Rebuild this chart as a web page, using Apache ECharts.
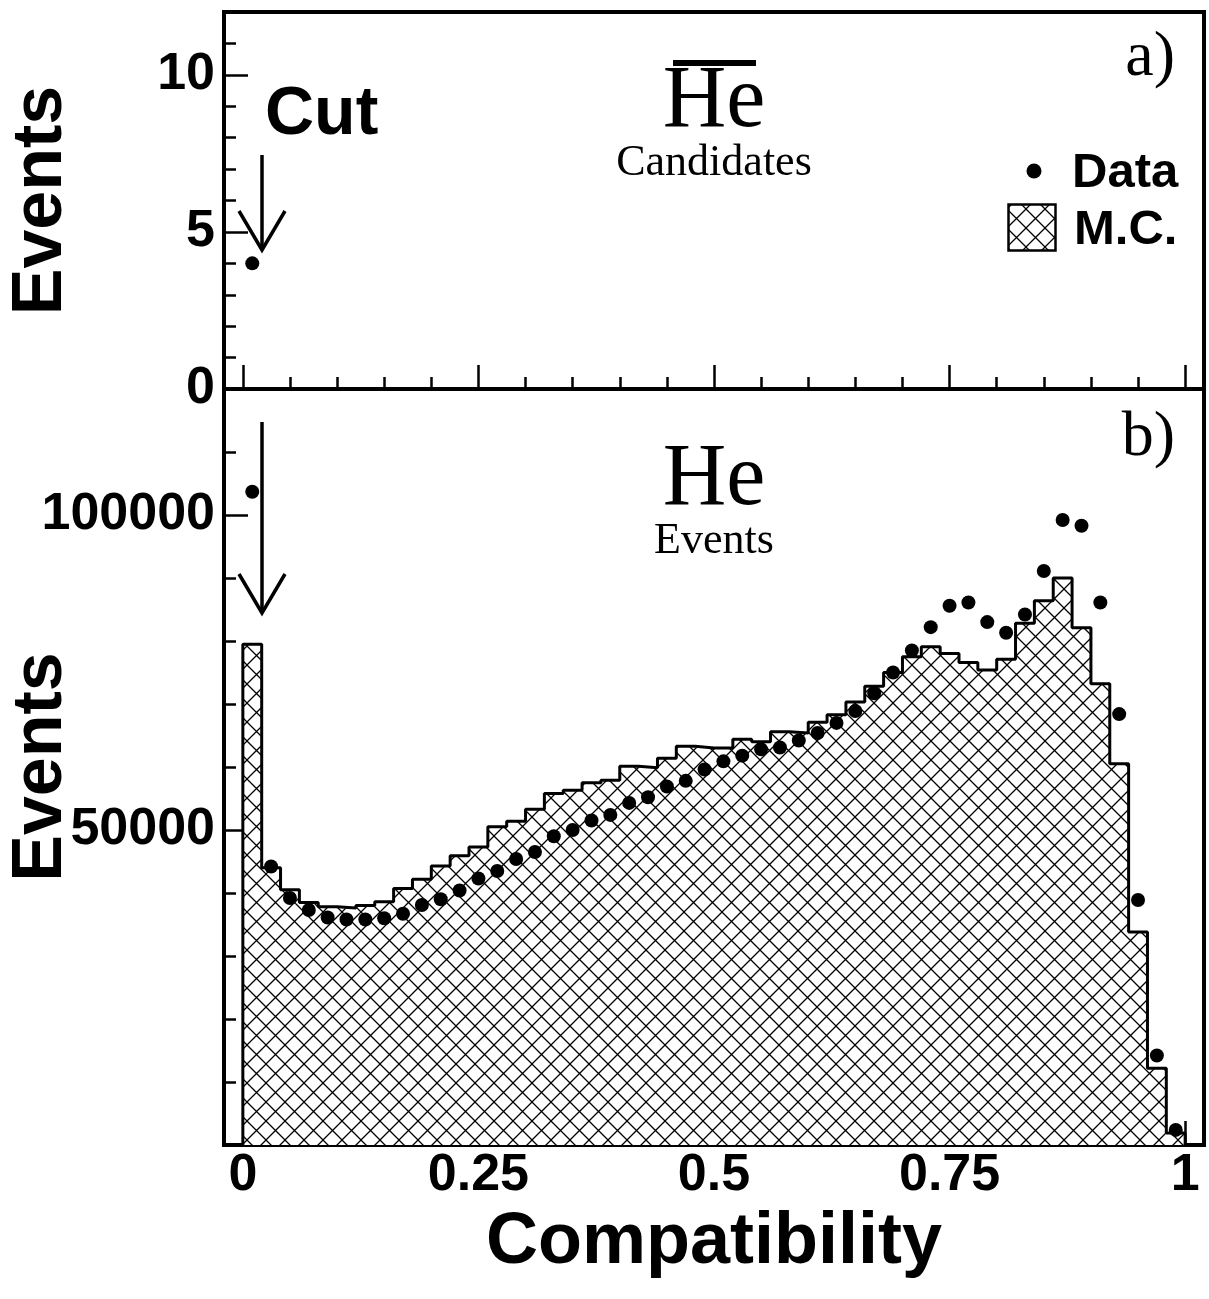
<!DOCTYPE html>
<html>
<head>
<meta charset="utf-8">
<script src="https://cdn.jsdelivr.net/npm/echarts@6/dist/echarts.min.js"></script>
<style>
html,body{margin:0;padding:0;background:#fff;}
#chart{width:1209px;height:1299px;}
</style>
</head>
<body>
<div id="chart"></div>
<script>
// ---------- data ----------
const binCenters = [0.01,0.03,0.05,0.07,0.09,0.11,0.13,0.15,0.17,0.19,
  0.21,0.23,0.25,0.27,0.29,0.31,0.33,0.35,0.37,0.39,
  0.41,0.43,0.45,0.47,0.49,0.51,0.53,0.55,0.57,0.59,
  0.61,0.63,0.65,0.67,0.69,0.71,0.73,0.75,0.77,0.79,
  0.81,0.83,0.85,0.87,0.89,0.91,0.93,0.95,0.97,0.99];
const binHalfWidth = 0.01;

// He events: Monte Carlo histogram
const mcCounts = [79500,44000,40500,38500,37800,37600,38000,38600,40700,42200,
  44300,45900,47300,50500,51400,53300,55800,56300,57500,57900,
  60100,59900,61400,63300,63000,63000,64400,64000,65600,65400,
  67100,68300,70300,72800,75000,77500,79100,78000,76600,75400,
  77100,82800,86400,90000,82100,73200,60500,33800,12200,1900];

// He events: data points
const dataCounts = [103700,44200,39200,37300,36100,35800,35800,36000,36700,38100,
  39000,40400,42300,43500,45400,46500,49000,50000,51500,52400,
  54300,55200,56900,57800,59600,60900,61800,62800,63100,64200,
  65400,67000,68900,71700,75000,78500,82200,85600,86100,83000,
  81300,84200,91100,99200,98300,86100,68400,38900,14200,2400];

// anti-He candidates
const candCenters = [0.01];
const candCounts = [4];

const cutValue = 0.02;

// axis ticks / labels
const xTickValues = [0, 0.25, 0.5, 0.75, 1];
const xTickLabels = ['0', '0.25', '0.5', '0.75', '1'];
const xMinorTicks = [0.05,0.1,0.15,0.2,0.3,0.35,0.4,0.45,0.55,0.6,0.65,0.7,0.8,0.85,0.9,0.95];
const yTopMajor = [0, 5, 10];
const yTopLabels = ['0', '5', '10'];
const yTopMinor = [1,2,3,4,6,7,8,9,11];
const yBotMajor = [50000, 100000];
const yBotLabels = ['50000', '100000'];
const yBotMinor = [10000,20000,30000,40000,60000,70000,80000,90000,110000];

// ---------- build ----------
const SANS = '"Liberation Sans", Arial, Helvetica, sans-serif';
const SERIF = '"Liberation Serif", "Times New Roman", serif';

function makeHatch(size) {
  const c = document.createElement('canvas');
  c.width = size; c.height = size;
  const g = c.getContext('2d');
  g.fillStyle = '#fff';
  g.fillRect(0, 0, size, size);
  g.strokeStyle = '#000';
  g.lineWidth = 1.3;
  g.beginPath();
  g.moveTo(-2, -2); g.lineTo(size + 2, size + 2);
  g.moveTo(size + 2, -2); g.lineTo(-2, size + 2);
  g.stroke();
  return c;
}
const hatch = { image: makeHatch(19), repeat: 'repeat' };

// histogram outline points (step)
const mcLine = [[binCenters[0] - binHalfWidth, 0]];
binCenters.forEach((c, i) => mcLine.push([c - binHalfWidth, mcCounts[i]]));
const lastEdge = binCenters[binCenters.length - 1] + binHalfWidth;
mcLine.push([lastEdge, mcCounts[mcCounts.length - 1]]);
mcLine.push([lastEdge, 0]);

const dataPts = binCenters.map((c, i) => [c, dataCounts[i]]);
const candPts = candCenters.map((c, i) => [c, candCounts[i]]);

const labelStyle = { color: '#000', fontFamily: SANS, fontWeight: 'bold', fontSize: 52 };
const tickLine = { color: '#000', width: 2.5 };

function xAxisDef(grid, major, showLabels) {
  return {
    type: 'value', gridIndex: grid, min: -0.02, max: 1.02, position: 'bottom',
    axisLine: { show: false, onZero: false }, splitLine: { show: false },
    axisTick: { show: true, inside: true, length: major ? 24 : 12, lineStyle: tickLine,
      customValues: major ? xTickValues : xMinorTicks },
    axisLabel: showLabels ? Object.assign({ show: true, margin: 5,
      customValues: xTickValues,
      formatter: v => xTickLabels[xTickValues.indexOf(v)] }, labelStyle) : { show: false }
  };
}
function yAxisDef(grid, min, max, ticks, len, labels, labelText) {
  return {
    type: 'value', gridIndex: grid, min: min, max: max, position: 'left',
    axisLine: { show: false, onZero: false }, splitLine: { show: false },
    axisTick: { show: true, inside: true, length: len, lineStyle: tickLine, customValues: ticks },
    axisLabel: labels ? Object.assign({ show: true, margin: 9, customValues: labels,
      formatter: v => labelText[labels.indexOf(v)] }, labelStyle) : { show: false }
  };
}

const xAxes = [
  xAxisDef(0, true, false),
  xAxisDef(0, false, false),
  Object.assign(xAxisDef(1, true, true), {
    name: 'Compatibility', nameLocation: 'middle', nameGap: 62, nameMoveOverlap: false,
    nameTextStyle: { color: '#000', fontFamily: SANS, fontWeight: 'bold', fontSize: 72 }
  }),
  xAxisDef(1, false, false)
];
const nameStyle = { color: '#000', fontFamily: SANS, fontWeight: 'bold', fontSize: 70 };
const yAxes = [
  Object.assign(yAxisDef(0, 0, 12, yTopMajor, 24, yTopMajor, yTopLabels), {
    name: 'Events', nameLocation: 'middle', nameRotate: 90, nameGap: 147, nameMoveOverlap: false,
    nameTextStyle: nameStyle }),
  yAxisDef(0, 0, 12, yTopMinor, 12, null, null),
  Object.assign(yAxisDef(1, 0, 120000, yBotMajor, 24, yBotMajor, yBotLabels), {
    name: 'Events', nameLocation: 'middle', nameRotate: 90, nameGap: 147, nameMoveOverlap: false,
    nameTextStyle: nameStyle }),
  yAxisDef(1, 0, 120000, yBotMinor, 12, null, null)
];

function txt(x, y, text, font, align, valign) {
  return { type: 'text', x: x, y: y, z: 100,
    style: { text: text, font: font, fill: '#000', textAlign: align, textVerticalAlign: valign } };
}
function arrow(x, y0, y1) {
  return [
    { type: 'line', z: 100, shape: { x1: x, y1: y0, x2: x, y2: y1 },
      style: { stroke: '#000', lineWidth: 3.5 } },
    { type: 'polyline', z: 100, shape: { points: [[x - 23, y1 - 39], [x, y1], [x + 23, y1 - 39]] },
      style: { stroke: '#000', lineWidth: 3.5, fill: null } }
  ];
}

const graphics = [].concat(
  [txt(265, 115, 'Cut', 'bold 68px ' + SANS, 'left', 'middle')],
  arrow(262, 155, 250),
  arrow(262, 422, 613),
  [
    txt(714, 103, 'He', '88px ' + SERIF, 'center', 'middle'),
    { type: 'rect', z: 100, shape: { x: 673, y: 60, width: 83, height: 6 }, style: { fill: '#000' } },
    txt(714, 163, 'Candidates', '44px ' + SERIF, 'center', 'middle'),
    txt(1175, 58, 'a)', '64px ' + SERIF, 'right', 'middle'),
    txt(1175, 438, 'b)', '64px ' + SERIF, 'right', 'middle'),
    txt(714, 481, 'He', '88px ' + SERIF, 'center', 'middle'),
    txt(714, 541, 'Events', '44px ' + SERIF, 'center', 'middle'),
    { type: 'circle', z: 100, shape: { cx: 1034, cy: 171, r: 7.5 }, style: { fill: '#000' } },
    txt(1072, 173, 'Data', 'bold 49px ' + SANS, 'left', 'middle'),
    { type: 'rect', z: 100, shape: { x: 1008.5, y: 204.5, width: 47, height: 46 },
      style: { fill: hatch, stroke: '#000', lineWidth: 2.5 } },
    txt(1074, 230, 'M.C.', 'bold 49px ' + SANS, 'left', 'middle')
  ]
);

const chart = echarts.init(document.getElementById('chart'), null, { renderer: 'canvas' });
chart.setOption({
  animation: false,
  backgroundColor: '#fff',
  grid: [
    { left: 224, right: 5, top: 12, height: 377, show: true, borderColor: '#000', borderWidth: 4,
      backgroundColor: 'transparent', containLabel: false, outerBoundsMode: 'none' },
    { left: 224, right: 5, top: 389, height: 756, show: true, borderColor: '#000', borderWidth: 4,
      backgroundColor: 'transparent', containLabel: false, outerBoundsMode: 'none' }
  ],
  xAxis: xAxes,
  yAxis: yAxes,
  series: [
    { name: 'M.C.', type: 'line', xAxisIndex: 2, yAxisIndex: 2, data: mcLine, step: 'end',
      showSymbol: false, symbol: 'none', z: 2,
      lineStyle: { color: '#000', width: 3 },
      areaStyle: { color: hatch, opacity: 1 } },
    { name: 'Data', type: 'scatter', xAxisIndex: 2, yAxisIndex: 2, data: dataPts,
      symbol: 'circle', symbolSize: 14, itemStyle: { color: '#000', opacity: 1 }, z: 5 },
    { name: 'Data', type: 'scatter', xAxisIndex: 0, yAxisIndex: 0, data: candPts,
      symbol: 'circle', symbolSize: 14, itemStyle: { color: '#000', opacity: 1 }, z: 5 }
  ],
  graphic: graphics
});
</script>
</body>
</html>
